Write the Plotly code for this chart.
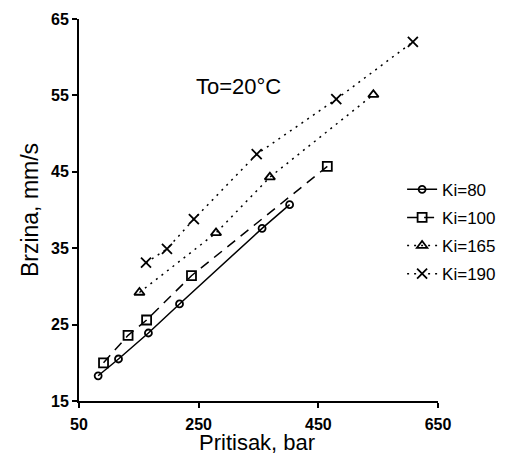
import plotly.graph_objects as go

# Data
ki80_x = [82, 116, 166, 218, 356, 402]
ki80_y = [18.3, 20.5, 23.9, 27.7, 37.6, 40.7]

ki100_x = [91, 132, 163, 238, 465]
ki100_y = [20.0, 23.6, 25.6, 31.4, 45.7]

ki165_x = [151, 279, 369, 542]
ki165_y = [29.2, 37.0, 44.3, 55.1]

ki190_x = [162, 197, 242, 347, 480, 608]
ki190_y = [33.1, 34.9, 38.8, 47.3, 54.5, 62.0]

x_ticks = [50, 250, 450, 650]
y_ticks = [15, 25, 35, 45, 55, 65]

FONT = "Liberation Sans, Arial, sans-serif"

series = [
    ("Ki=80", ki80_x, ki80_y, "solid", "circle-open", 7),
    ("Ki=100", ki100_x, ki100_y, "10px,7px", "square-open", 9),
    ("Ki=165", ki165_x, ki165_y, "2px,5px", "triangle-up-open", 9),
    ("Ki=190", ki190_x, ki190_y, "2px,5px", "x-thin-open", 10),
]

fig = go.Figure()
for i, (name, xs, ys, dash, sym, size) in enumerate(series):
    fig.add_trace(go.Scatter(
        x=xs, y=ys, name=name, mode="lines+markers",
        line=dict(color="black", width=1.5, dash=dash),
        marker=dict(symbol=sym, size=size, color="black",
                    line=dict(color="black", width=1.8)),
        legendgroup=f"g{i}",
    ))

fig.add_annotation(
    x=0.445, y=0.86, xref="paper", yref="paper",
    text="To=20°C", showarrow=False,
    font=dict(family=FONT, size=22, color="black"),
)
# x axis title
fig.add_annotation(
    x=0.495, y=-0.1466, xref="paper", yref="paper",
    xanchor="center", yanchor="bottom",
    text="Pritisak, bar", showarrow=False,
    font=dict(family=FONT, size=22, color="black"),
)

fig.update_layout(
    width=517, height=457,
    margin=dict(l=79, r=79, t=19, b=56),
    plot_bgcolor="white", paper_bgcolor="white",
    font=dict(family=FONT, color="black"),
    showlegend=True,
    legend=dict(
        x=0.90, y=0.60, xanchor="left", yanchor="top",
        bgcolor="rgba(0,0,0,0)",
        font=dict(family=FONT, size=17, color="black"),
        tracegroupgap=3,
        itemwidth=30,
    ),
)

fig.update_xaxes(
    range=[50, 650], tickvals=x_ticks, automargin=False,
    showline=True, linecolor="black", linewidth=2,
    ticks="outside", ticklen=5, tickwidth=2, tickcolor="black",
    showgrid=False, zeroline=False,
    ticklabelstandoff=3,
    tickfont=dict(family=FONT, size=16, color="black", weight="bold"),
)
fig.update_yaxes(
    range=[15, 65], tickvals=y_ticks, automargin=False,
    showline=True, linecolor="black", linewidth=2,
    ticks="outside", ticklen=5, tickwidth=2, tickcolor="black",
    showgrid=False, zeroline=False,
    tickfont=dict(family=FONT, size=16, color="black", weight="bold"),
    title=dict(text="Brzina, mm/s", font=dict(family=FONT, size=23, color="black"), standoff=6),
)

fig.write_html("out.html")
